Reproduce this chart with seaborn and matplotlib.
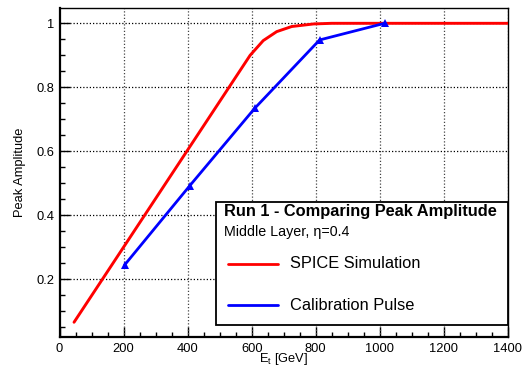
import matplotlib
matplotlib.use("Agg")
import matplotlib.pyplot as plt
from matplotlib.patches import Rectangle
from matplotlib.lines import Line2D
from matplotlib.ticker import MultipleLocator
import seaborn as sns
import pandas as pd

# SPICE simulated peak amplitude vs transverse energy
spice_et = [45, 595, 636, 678, 725, 793, 850, 1400]
spice_amp = [0.066, 0.900, 0.946, 0.974, 0.990, 0.998, 1.000, 1.000]

# Calibration pulse measurements
calib_et = [203, 406, 609, 812, 1015]
calib_amp = [0.245, 0.492, 0.734, 0.948, 1.000]

title_text = "Run 1 - Comparing Peak Amplitude"
subtitle_text = "Middle Layer, \u03b7=0.4"
series_names = ["SPICE Simulation", "Calibration Pulse"]

sns.set_theme(style="white")
plt.rcParams["font.family"] = ["Liberation Sans", "DejaVu Sans"]
plt.rcParams["text.color"] = "black"
plt.rcParams["axes.labelcolor"] = "black"

fig = plt.figure(figsize=(5.23, 3.73), dpi=100)
ax = fig.add_axes([0.114, 0.0957, 0.857, 0.883])

spice = pd.DataFrame({"et": spice_et, "amp": spice_amp})
calib = pd.DataFrame({"et": calib_et, "amp": calib_amp})

sns.lineplot(data=spice, x="et", y="amp", ax=ax, color="#ff0000", lw=2.1,
             sort=False, estimator=None, zorder=3)
sns.lineplot(data=calib, x="et", y="amp", ax=ax, color="#0000ff", lw=2.0,
             marker="^", markersize=6, markeredgewidth=0, sort=False,
             estimator=None, zorder=4)

ax.set_xlim(0, 1400)
ax.set_ylim(0.019, 1.048)

ax.xaxis.set_major_locator(MultipleLocator(200))
ax.xaxis.set_minor_locator(MultipleLocator(50))
ax.yaxis.set_major_locator(MultipleLocator(0.2))
ax.yaxis.set_minor_locator(MultipleLocator(0.05))
ax.set_xticks(range(0, 1401, 200))
ax.set_xticklabels([str(v) for v in range(0, 1401, 200)])
ax.set_yticks([0.2, 0.4, 0.6, 0.8, 1.0])
ax.set_yticklabels(["0.2", "0.4", "0.6", "0.8", "1"])

ax.tick_params(which="both", direction="in", color="black", bottom=True,
               left=True, top=False, right=False)
ax.tick_params(which="major", length=7, width=1.0, labelsize=9.3,
               labelcolor="black", pad=4)
ax.tick_params(which="minor", length=3.5, width=1.0)

# dotted grid
for xv in range(200, 1401, 200):
    ax.axvline(xv, color="#444444", lw=0.9, ls=(0, (1, 1.6)), zorder=1)
for yv in [0.2, 0.4, 0.6, 0.8, 1.0]:
    ax.axhline(yv, color="black", lw=0.9, ls=(0, (1, 1.6)), zorder=1)

for side in ["left", "bottom"]:
    ax.spines[side].set_linewidth(1.6)
    ax.spines[side].set_color("black")
for side in ["top", "right"]:
    ax.spines[side].set_linewidth(1.0)
    ax.spines[side].set_color("black")

ax.set_xlabel("E$_{\\mathregular{t}}$ [GeV]", fontsize=9.3, color="black",
              labelpad=-2.5)
ax.set_ylabel("Peak Amplitude", fontsize=9.3, color="black", labelpad=7.5)

# legend panel
box = Rectangle((0.349, 0.037), 0.652, 0.373, transform=ax.transAxes,
                facecolor="white", edgecolor="black", lw=1.3, zorder=6,
                clip_on=False)
ax.add_patch(box)
ax.text(0.367, 0.382, title_text, transform=ax.transAxes, fontsize=11.8,
        fontweight="bold", color="black", ha="left", va="center", zorder=7)
ax.text(0.367, 0.321, subtitle_text, transform=ax.transAxes, fontsize=10.3,
        color="black", ha="left", va="center", zorder=7)
for ypos, name, col in [(0.224, series_names[0], "#ff0000"),
                        (0.098, series_names[1], "#0000ff")]:
    ax.add_line(Line2D([0.375, 0.488], [ypos, ypos], transform=ax.transAxes,
                       color=col, lw=2.0, zorder=7))
    ax.text(0.513, ypos, name, transform=ax.transAxes, fontsize=11.8,
            color="black", ha="left", va="center", zorder=7)

fig.savefig("out.png", dpi=100)
